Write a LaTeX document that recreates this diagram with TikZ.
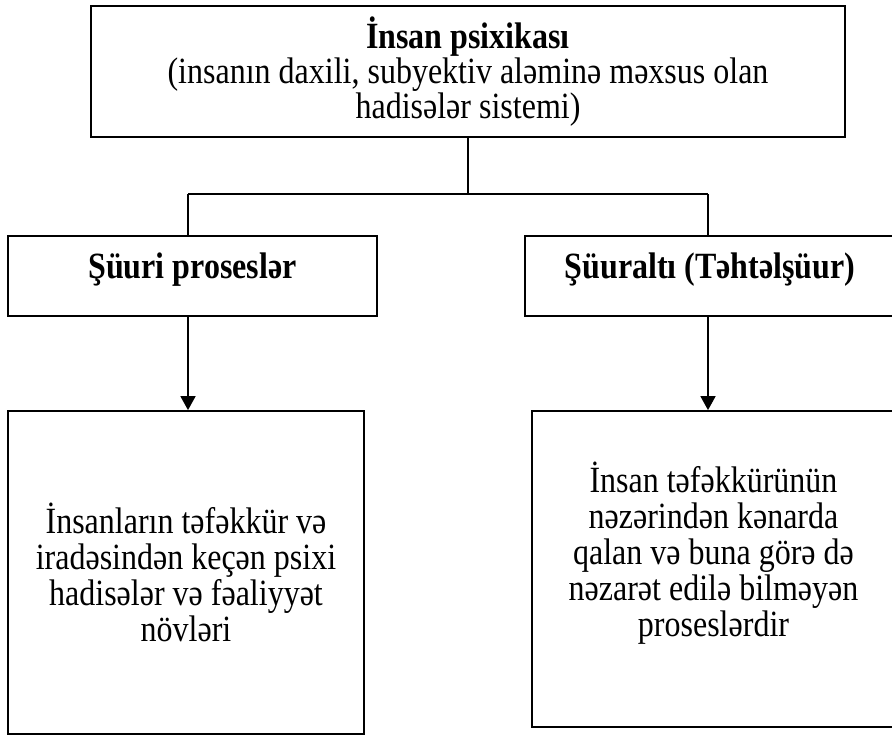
\documentclass[tikz,border=0pt]{standalone}
\usepackage{fontspec}
\setmainfont[FakeStretch=0.865]{Liberation Serif}
\usetikzlibrary{positioning}
\usetikzlibrary{arrows.meta}

\begin{document}
\begin{tikzpicture}[
    x=0.5pt, y=-0.5pt,
    font=\fontsize{18.5}{17.5}\selectfont,
    block/.style={rectangle,draw,line width=0.9pt,align=center,inner sep=0pt},
    textblock/.style={block,font=\fontsize{18.5}{18}\selectfont},
    head/.style={block,minimum width=185pt,minimum height=40pt,text depth=10pt,font=\fontsize{18.5}{17.5}\selectfont\bfseries},
    link/.style={line width=0.8pt},
    arrow/.style={-{Triangle[length=7pt,width=7.5pt]},line width=0.8pt}
]
\useasboundingbox (0,0) rectangle (892,736);
\clip (0,0) rectangle (892,736);

\node[block,minimum width=377pt,minimum height=65.5pt] (psyche) at (468,71.5) {\textbf{İnsan psixikası}\\(insanın daxili, subyektiv aləminə məxsus olan\\hadisələr sistemi)};
\node[head,minimum width=184.5pt] (conscious) at (192.5,276) {Şüuri proseslər};
\node[head] (subconscious) at (710,276) {Şüuraltı (Təhtəlşüur)};
\node[textblock,minimum width=178pt,minimum height=161.5pt] (conscious_desc) at (186,572.5) {İnsanların təfəkkür və\\iradəsindən keçən psixi\\hadisələr və fəaliyyət\\növləri};
\node[textblock,minimum width=181.5pt,minimum height=158pt,text depth=19.5pt] (subconscious_desc) at (713.5,569) {İnsan təfəkkürünün\\nəzərindən kənarda\\qalan və buna görə də\\nəzarət edilə bilməyən\\proseslərdir};

\coordinate (fork) at (468,194);
\coordinate (fork_left) at (188,194);
\coordinate (fork_right) at (708,194);
\draw[link] (psyche) -- (fork);
\draw[link] (fork_left) -- (fork_right);
\draw[link] (fork_left) -- (fork_left |- conscious.north);
\draw[link] (fork_right) -- (fork_right |- subconscious.north);
\draw[arrow] (fork_left |- conscious.south) -- (fork_left |- conscious_desc.north);
\draw[arrow] (fork_right |- subconscious.south) -- (fork_right |- subconscious_desc.north);
\end{tikzpicture}
\end{document}
